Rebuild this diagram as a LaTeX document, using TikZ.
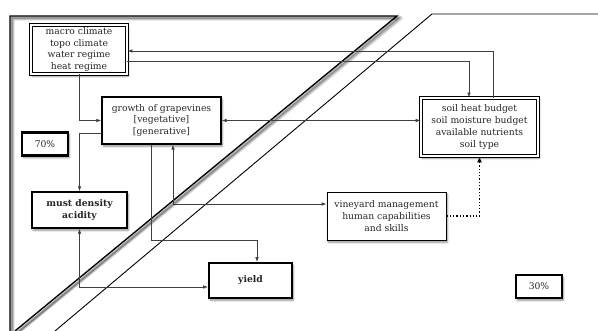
\documentclass[tikz,border=0pt]{standalone}
\usepackage{fontspec}
\setmainfont{DejaVu Serif}
\usetikzlibrary{shadows.blur,arrows.meta}

\begin{document}
\begin{tikzpicture}[x=1pt,y=-1pt,font=\fontsize{9.2}{11.7}\selectfont,
  box/.style={draw,fill=white,align=center,inner sep=0pt,line width=1pt,text=black!85,
    blur shadow={shadow xshift=1.2pt,shadow yshift=-2.2pt,shadow blur steps=6,shadow opacity=45}},
  dbox/.style={box,double,line width=0.8pt,double distance=2pt},
  pbox/.style={box,line width=2.6pt},
  arr/.style={draw=black!75,line width=0.7pt,-{Latex[length=5pt,width=3.6pt]}},
  barr/.style={arr,{Latex[length=5pt,width=3.6pt]}-{Latex[length=5pt,width=3.6pt]}}]
\useasboundingbox (0,0) rectangle (598,331);

% the two areas
\foreach \d/\o in {3.5/0.12,2.5/0.2,1.5/0.3}
  \draw[black,line width=2.4pt,opacity=\o] (10+\d,333) -- (10+\d,16+\d) -- (397+\d,16+\d) -- (15+\d,333);
\draw[line width=1.4pt] (10,331) -- (10,16) -- (397,16) -- (15,331);
\draw[line width=0.9pt] (598,14) -- (432,14) -- (55,331);

% boxes
\node[dbox,minimum width=96pt,minimum height=49pt] (macro) at (79,49.5)
  {macro climate\\topo climate\\water regime\\heat regime};
\node[box,line width=1.3pt,minimum width=119pt,minimum height=47pt] (growth) at (161.5,120.5)
  {growth of grapevines\\{[vegetative]}\\{[generative]}};
\node[pbox,minimum width=46pt,minimum height=23pt] (seventy) at (45,144) {70\%};
\node[dbox,minimum width=117pt,minimum height=58pt] (soil) at (479.5,127)
  {soil heat budget\\soil moisture budget\\available nutrients\\soil type};
\node[box,line width=1.3pt,minimum width=95pt,minimum height=36pt,font=\fontsize{9.2}{11.7}\selectfont\bfseries] (must) at (79.5,210)
  {must density\\acidity};
\node[box,line width=1.8pt,minimum width=83pt,minimum height=35pt,font=\fontsize{9.2}{11.7}\selectfont\bfseries] (yield) at (250.5,280.5)
  {yield};
\node[box,line width=0.9pt,minimum width=119pt,minimum height=48pt] (vine) at (386.5,216)
  {vineyard management\\human capabilities\\and skills};
\node[pbox,minimum width=46pt,minimum height=23pt] (thirty) at (539,286.5) {30\%};

% connectors
\draw[arr] ([xshift=13.5pt]soil.north) |- ([yshift=-1.5pt]macro.east);
\draw[arr] ([yshift=-11.5pt]macro.east) -| ([xshift=-10.5pt]soil.north);
\draw[arr] (macro.south) |- (growth.west);
\draw[barr] (growth.east) -- (growth.east -| soil.west);
\draw[arr] ([yshift=-12.5pt]growth.west) -| (must.north);
\draw[arr] ([xshift=-10.5pt]growth.south) -- ++(0,96) -| ([xshift=6.5pt]yield.north);
\draw[barr] ([xshift=11.5pt]growth.south) |- ([yshift=12pt]vine.west);
\draw[barr] (must.south) |- ([yshift=-6.5pt]yield.west);
\draw[arr,black,line width=1.3pt,dotted,-{Latex[length=6pt,width=5pt]}] (vine.east) -| (soil.south);
\end{tikzpicture}
\end{document}
